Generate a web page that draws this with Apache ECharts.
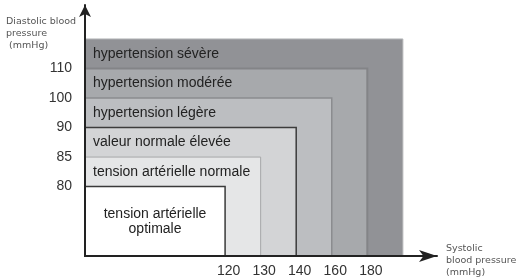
<!DOCTYPE html>
<html>
<head>
<meta charset="utf-8">
<script src="https://cdn.jsdelivr.net/npm/echarts@6/dist/echarts.min.js"></script>
<style>
  html, body { margin: 0; background: #fff; }
  #chart { width: 519px; height: 278px; }
</style>
</head>
<body>
<div id="chart"></div>
<script>
const systolicTicks = ['120', '130', '140', '160', '180'];
const diastolicTicks = ['80', '85', '90', '100', '110'];
const zoneNames = [
  'tension artérielle\noptimale',
  'tension artérielle normale',
  'valeur normale élevée',
  'hypertension légère',
  'hypertension modérée',
  'hypertension sévère'
];

// both axes are ordinal: one step per threshold, origin a few steps before the first one
const X0 = 3.94;
const Y0 = 2.35;

const zoneFill = ['#ffffff', '#e5e6e7', '#d3d4d6', '#bcbec1', '#a7a9ac', '#919296'];
const zoneStroke = ['#3a3a3a', '#a6a7a9', '#3c3c3c', '#8b8c8f', '#838487', '#b3b4b6'];
const zoneStrokeW = [1.5, 1, 1.5, 1.5, 2, 1];

const chart = echarts.init(document.getElementById('chart'));

const nameStyle = {
  fontFamily: 'DejaVu Sans',
  fontSize: 9.5,
  fontWeight: 'normal',
  color: '#555',
  lineHeight: 12
};

const option = {
  animation: false,
  title: [
    { text: 'Diastolic blood\npressure\n (mmHg)', left: 6, top: 16, padding: 0, textStyle: nameStyle },
    { text: 'Systolic\nblood pressure\n(mmHg)', left: 446, top: 243, padding: 0, textStyle: nameStyle }
  ],
  grid: {
    left: 85,
    right: 82,
    top: 5,
    bottom: 22,
    outerBoundsMode: 'none'
  },
  xAxis: {
    type: 'value',
    min: 0,
    max: 9.9,
    z: 10,
    splitLine: { show: false },
    axisTick: { show: false },
    axisLine: {
      onZero: false,
      symbol: ['none', 'arrow'],
      symbolSize: [9, 18],
      lineStyle: { color: '#222', width: 2 }
    },
    axisLabel: {
      customValues: systolicTicks.map((_, i) => X0 + i),
      formatter: (v) => systolicTicks[Math.round(v - X0)] || '',
      margin: 8,
      padding: [0, 0, 0, 7],
      fontFamily: 'Liberation Sans',
      fontSize: 14,
      color: '#333'
    }
  },
  yAxis: {
    type: 'value',
    min: 0,
    max: 8.5,
    z: 10,
    splitLine: { show: false },
    axisTick: { show: false },
    axisLine: {
      onZero: false,
      symbol: ['none', 'arrow'],
      symbolSize: [9, 12],
      lineStyle: { color: '#222', width: 2 }
    },
    axisLabel: {
      customValues: diastolicTicks.map((_, i) => Y0 + i),
      formatter: (v) => diastolicTicks[Math.round(v - Y0)] || '',
      margin: 13,
      padding: [6, 0, 0, 0],
      fontFamily: 'Liberation Sans',
      fontSize: 14,
      color: '#333'
    }
  },
  series: [{
    type: 'custom',
    silent: true,
    data: zoneNames.map((_, k) => [X0 + k, Y0 + k, k]).reverse(),
    renderItem: (params, api) => {
      const k = api.value(2);
      const o = api.coord([0, 0]);
      const c = api.coord([api.value(0), api.value(1)]);
      let pos, align;
      if (k === 0) {
        pos = api.coord([api.value(0) / 2, api.value(1) / 2]);
        align = 'center';
      } else {
        pos = api.coord([0, api.value(1) - 0.5]);
        pos = [pos[0] + 8, pos[1]];
        align = 'left';
      }
      return {
        type: 'group',
        children: [
          {
            type: 'rect',
            shape: { x: o[0], y: c[1], width: c[0] - o[0], height: o[1] - c[1] },
            style: { fill: zoneFill[k], stroke: zoneStroke[k], lineWidth: zoneStrokeW[k] }
          },
          {
            type: 'text',
            x: pos[0],
            y: pos[1],
            style: {
              text: zoneNames[k],
              fill: '#222',
              fontFamily: 'Liberation Sans',
              fontSize: 14,
              align: align,
              verticalAlign: 'middle',
              lineHeight: 15
            }
          }
        ]
      };
    }
  }]
};

chart.setOption(option);
</script>
</body>
</html>
